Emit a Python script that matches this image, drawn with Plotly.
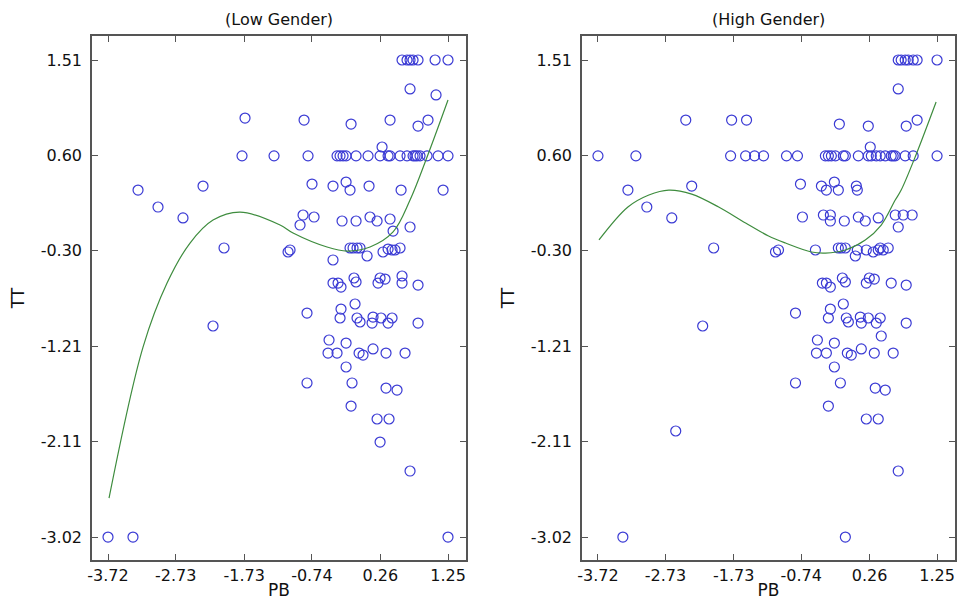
import plotly.graph_objects as go

# ---- Low Gender panel: scatter of PB vs TT ----
low_pb = [
    0.578, 0.651, 0.695, 0.739, 0.812, 1.061, 1.250,
    0.695, 1.075,
    -1.717, -0.854, -0.167, 0.403, 0.812, 0.958,
    -1.761, -1.293, -0.796, -0.372, -0.328, -0.284, -0.240, -0.094, 0.081, 0.257, 0.374,
    0.403, 0.549, 0.651, 0.739, 0.768, 0.798, 0.841, 0.944, 1.105, 1.250,
    0.286,
    -3.281, -2.989, -2.624, -2.331,
    -0.738, -0.431, -0.240, -0.182, 0.096, 0.564, 1.178,
    -0.869, -0.708, -0.913, -0.299, -0.094, 0.110, 0.213, 0.403, 0.695, 0.447,
    -2.024,
    -1.088, -1.059, -0.182, -0.138, -0.080, -0.036, 0.067, 0.300, 0.374, 0.432, 0.476, 0.549, -0.431,
    -0.431, -0.357, -0.314, -0.124, -0.094, 0.227, 0.257, 0.330, 0.578, 0.578, 0.812,
    -0.811, -0.314, -0.328, -0.109, -0.080, -0.036, 0.154, 0.140, 0.271, 0.374, 0.432, 0.812,
    -2.185,
    -0.489, -0.240, -0.504, -0.372, -0.050, 0.008, 0.154, 0.344, 0.622,
    -0.240,
    -0.811, -0.153, 0.344, 0.505, -0.167, 0.213, 0.388, 0.257, 0.695,
    -3.720, -3.355, 1.250,
]
low_tt = [
    1.51, 1.51, 1.51, 1.51, 1.51, 1.51, 1.51,
    1.235, 1.178,
    0.959, 0.940, 0.902, 0.940, 0.883, 0.940,
    0.60, 0.60, 0.60, 0.60, 0.60, 0.60, 0.60, 0.60, 0.60, 0.60, 0.60,
    0.60, 0.60, 0.60, 0.60, 0.60, 0.60, 0.60, 0.60, 0.60, 0.60,
    0.684,
    0.275, 0.114, 0.010, 0.313,
    0.332, 0.313, 0.351, 0.275, 0.313, 0.275, 0.275,
    0.038, 0.019, -0.057, -0.019, -0.019, 0.019, -0.019, 0.000, -0.076, -0.114,
    -0.275,
    -0.313, -0.294, -0.275, -0.275, -0.275, -0.275, -0.351, -0.313, -0.285, -0.294, -0.294, -0.275, -0.389,
    -0.608, -0.608, -0.646, -0.560, -0.598, -0.608, -0.560, -0.570, -0.541, -0.608, -0.627,
    -0.893, -0.855, -0.940, -0.807, -0.940, -0.978, -0.931, -0.988, -0.940, -0.988, -0.940, -0.988,
    -1.016,
    -1.149, -1.178, -1.273, -1.273, -1.273, -1.292, -1.234, -1.273, -1.273,
    -1.405,
    -1.557, -1.557, -1.605, -1.624, -1.776, -1.899, -1.899, -2.118, -2.393,
    -3.02, -3.02, -3.02,
]

# ---- High Gender panel: scatter of PB vs TT ----
high_pb = [
    0.681, 0.724, 0.783, 0.827, 0.900, 0.958, 1.250,
    0.681,
    -2.433, -1.761, -1.542, -0.182, 0.242, 0.798, 0.958,
    -3.720, -3.164, -1.776, -1.556, -1.425, -1.293, -0.957, -0.796, -0.387, -0.343, -0.299,
    -0.240, -0.124, -0.094, 0.096, 0.242, 0.286, 0.359, 0.417, 0.491, 0.578, 0.607, 0.637,
    0.783, 0.900, 1.250,
    0.271,
    -3.281, -3.004, -2.638, -2.346,
    -0.752, -0.445, -0.255, -0.372, -0.197, 0.067, 0.081,
    -0.723, -0.416, -0.314, -0.314, -0.109, 0.096, 0.198, 0.388, 0.637, 0.754, 0.885, 0.681,
    -2.024,
    -1.118, -1.074, -0.533, -0.197, -0.153, -0.094, 0.081, 0.052, 0.213, 0.315, 0.388, 0.417,
    0.461, 0.534,
    -0.431, -0.372, -0.314, -0.138, -0.094, 0.213, 0.257, 0.330, 0.578, 0.798,
    -0.825, -0.314, -0.343, -0.124, -0.080, -0.050, 0.125, 0.140, 0.242, 0.359, 0.417, 0.798,
    0.432,
    -2.185,
    -0.504, -0.255, -0.518, -0.372, -0.065, -0.007, 0.140, 0.330, 0.607,
    -0.255,
    -0.825, -0.167, 0.344, 0.491, -0.343, 0.213, 0.388, 0.681,
    -2.580,
    -3.355, -0.094,
]
high_tt = [
    1.51, 1.51, 1.51, 1.51, 1.51, 1.51, 1.51,
    1.235,
    0.940, 0.940, 0.940, 0.902, 0.883, 0.883, 0.940,
    0.60, 0.60, 0.60, 0.60, 0.60, 0.60, 0.60, 0.60, 0.60, 0.60, 0.60,
    0.60, 0.60, 0.60, 0.60, 0.60, 0.60, 0.60, 0.60, 0.60, 0.60, 0.60, 0.60,
    0.60, 0.60, 0.60,
    0.684,
    0.275, 0.114, 0.010, 0.313,
    0.332, 0.313, 0.351, 0.275, 0.275, 0.313, 0.275,
    0.019, 0.038, 0.038, -0.019, -0.019, 0.019, -0.019, 0.010, 0.038, 0.038, 0.038, -0.076,
    -0.275,
    -0.313, -0.294, -0.294, -0.275, -0.275, -0.275, -0.294, -0.351, -0.294, -0.313, -0.294, -0.275,
    -0.294, -0.275,
    -0.608, -0.608, -0.646, -0.560, -0.598, -0.608, -0.560, -0.570, -0.608, -0.627,
    -0.893, -0.855, -0.940, -0.807, -0.940, -0.978, -0.931, -0.988, -0.940, -0.988, -0.940, -0.988,
    -1.111,
    -1.016,
    -1.149, -1.178, -1.273, -1.273, -1.273, -1.292, -1.234, -1.273, -1.273,
    -1.405,
    -1.557, -1.557, -1.605, -1.624, -1.776, -1.899, -1.899, -2.393,
    -2.013,
    -3.02, -3.02,
]

# ---- Fitted trend curves (points along each curve) ----
low_fit_pb = [-3.705, -3.208, -2.857, -2.521, -2.185, -1.790, -1.205, -1.015,
              -0.518, -0.226, 0.110, 0.447, 0.695, 0.944, 1.250]
low_fit_tt = [-2.650, -1.216, -0.608, -0.228, -0.010, 0.066, -0.057, -0.133,
              -0.266, -0.304, -0.266, -0.123, 0.180, 0.589, 1.130]
high_fit_pb = [-3.705, -3.281, -2.974, -2.682, -2.346, -1.951, -1.556, -1.220,
               -0.971, -0.591, -0.387, -0.094, 0.198, 0.432, 0.637, 0.724, 0.929, 1.236]
high_fit_tt = [-0.199, 0.114, 0.228, 0.275, 0.237, 0.114, -0.038, -0.161,
               -0.228, -0.313, -0.323, -0.294, -0.199, -0.057, 0.180, 0.275, 0.589, 1.111]

x_ticks = [-3.72, -2.73, -1.73, -0.74, 0.26, 1.25]
y_ticks = [-3.02, -2.11, -1.21, -0.30, 0.60, 1.51]
panel_titles = ["(Low Gender)", "(High Gender)"]

MARKER_COLOR = "rgb(58,58,212)"
CURVE_COLOR = "rgb(62,140,62)"
FONT = "DejaVu Sans, Verdana, sans-serif"
TEXT_COLOR = "#111111"

W, H = 968, 600
ML, MR, MT, MB = 92, 13, 36, 40
PW = W - ML - MR

fig = go.Figure()

panels = [
    (low_pb, low_tt, low_fit_pb, low_fit_tt, "x", "y"),
    (high_pb, high_tt, high_fit_pb, high_fit_tt, "x2", "y2"),
]
for pb, tt, fpb, ftt, xa, ya in panels:
    fig.add_trace(go.Scatter(
        x=pb, y=tt, mode="markers", xaxis=xa, yaxis=ya, showlegend=False,
        marker=dict(symbol="circle-open", size=10, color=MARKER_COLOR,
                    line=dict(width=1.2, color=MARKER_COLOR)),
    ))
    fig.add_trace(go.Scatter(
        x=fpb, y=ftt, mode="lines", xaxis=xa, yaxis=ya, showlegend=False,
        line=dict(color=CURVE_COLOR, width=1.2, shape="spline", smoothing=1.0),
    ))

axis_common = dict(
    showline=True, mirror="ticks", linecolor="#555555", linewidth=1.5,
    ticks="inside", ticklen=6, tickwidth=1.2, tickcolor="#555555",
    showgrid=False, zeroline=False, automargin=False,
    tickfont=dict(family=FONT, size=16, color=TEXT_COLOR),
)
x_common = dict(axis_common, range=[-3.954, 1.513], tickvals=x_ticks,
                ticktext=[f"{v:.2f}" for v in x_ticks],
                title=dict(text="PB", font=dict(family=FONT, size=17, color=TEXT_COLOR), standoff=6))
y_common = dict(axis_common, range=[-3.238, 1.738], tickvals=y_ticks,
                ticktext=[f"{v:.2f}" for v in y_ticks], ticklabelstandoff=5,
                title=dict(text="TT", font=dict(family=FONT, size=17, color=TEXT_COLOR), standoff=12))

fig.update_layout(
    width=W, height=H,
    margin=dict(l=ML, r=MR, t=MT, b=MB, autoexpand=False),
    paper_bgcolor="white", plot_bgcolor="white",
    xaxis=dict(x_common, domain=[0, (466 - ML) / PW], anchor="y"),
    yaxis=dict(y_common, domain=[0, 1], anchor="x"),
    xaxis2=dict(x_common, domain=[(582 - ML) / PW, 1], anchor="y2"),
    yaxis2=dict(y_common, domain=[0, 1], anchor="x2"),
)

# panel titles, centred over each plot, 20px from the top of the page
title_y = 1 + (MT - 20) / (H - MT - MB)
for text, cx in zip(panel_titles, [279, 768]):
    fig.add_annotation(text=text, x=(cx - ML) / PW, y=title_y, xref="paper", yref="paper",
                       xanchor="center", yanchor="middle", showarrow=False,
                       font=dict(family=FONT, size=16, color=TEXT_COLOR))

fig.write_html("out.html")
